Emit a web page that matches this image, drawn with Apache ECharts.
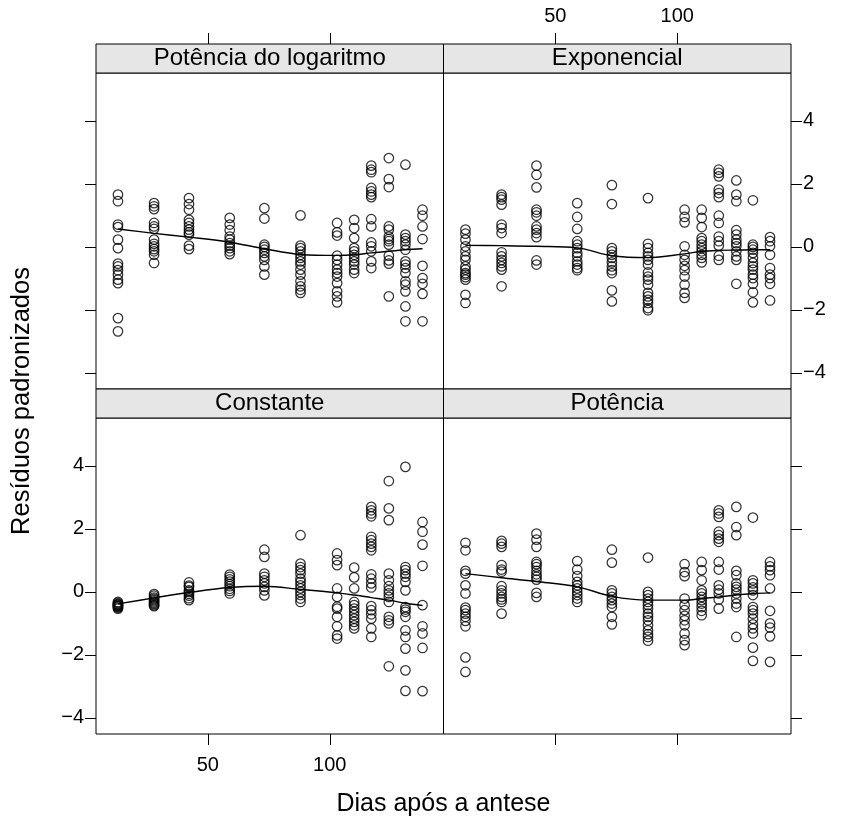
<!DOCTYPE html>
<html>
<head>
<meta charset="utf-8">
<script src="https://cdn.jsdelivr.net/npm/echarts@6/dist/echarts.min.js"></script>
<style>
html,body{margin:0;padding:0;background:#fff;}
#chart{width:843px;height:820px;}
</style>
</head>
<body>
<div id="chart"></div>
<script>
// ---- data ----
const DAYS = [13.2, 28, 42.3, 59, 73.2, 88, 103, 110, 117, 124.2, 131, 138];
const PANEL_NAMES = ["Potência do logaritmo", "Exponencial", "Constante", "Potência"];
const X_TICKS = [50, 100];
const Y_TICKS = [-4, -2, 0, 2, 4];

const resPotLog = [
  [1.66, 1.45, 0.71, 0.63, 0.23, -0.04, -0.53, -0.62, -0.74, -0.88, -1.04, -1.15, -2.26, -2.68],
  [1.39, 1.29, 1.20, 0.76, 0.65, 0.57, 0.23, 0.10, 0.02, -0.07, -0.14, -0.25, -0.51],
  [1.55, 1.36, 1.18, 0.86, 0.76, 0.65, 0.55, 0.46, 0.39, 0.04, -0.07],
  [0.92, 0.71, 0.53, 0.33, 0.23, 0.12, 0.04, -0.04, -0.14, -0.23],
  [1.23, 0.90, 0.07, 0.00, -0.09, -0.19, -0.30, -0.41, -0.62, -0.88],
  [1.00, 0.04, -0.04, -0.14, -0.25, -0.35, -0.46, -0.56, -0.72, -0.88, -1.09, -1.25, -1.36, -1.46],
  [0.76, 0.46, 0.36, -0.28, -0.41, -0.56, -0.72, -0.83, -0.94, -1.15, -1.41, -1.57, -1.76],
  [0.86, 0.60, 0.28, -0.04, -0.14, -0.25, -0.35, -0.46, -0.56, -0.72, -0.83],
  [2.58, 2.45, 2.37, 1.87, 1.76, 1.66, 1.58, 0.88, 0.65, 0.14, 0.02, -0.14, -0.46, -0.67],
  [2.82, 2.15, 1.90, 0.65, 0.55, 0.33, 0.25, 0.18, 0.07, -0.28, -0.43, -0.53, -1.57],
  [2.61, 0.39, 0.28, 0.18, 0.07, -0.09, -0.46, -0.56, -0.67, -0.83, -1.09, -1.20, -1.41, -1.89, -2.36],
  [1.18, 0.99, 0.65, 0.25, -0.60, -0.99, -1.17, -1.49, -2.36]
];
const resExp = [
  [0.55, 0.42, 0.23, 0.02, -0.14, -0.30, -0.41, -0.62, -0.72, -0.83, -0.88, -0.96, -1.04, -1.52, -1.78],
  [1.66, 1.58, 1.50, 1.34, 0.71, 0.60, 0.44, -0.17, -0.30, -0.41, -0.51, -0.62, -0.72, -1.25],
  [2.58, 2.29, 1.89, 1.18, 1.10, 0.99, 0.65, 0.55, 0.44, 0.31, -0.43, -0.56],
  [1.39, 0.95, 0.57, 0.18, 0.07, -0.04, -0.19, -0.30, -0.46, -0.56, -0.67, -0.74],
  [1.96, 1.36, -0.04, -0.14, -0.25, -0.35, -0.49, -0.62, -0.74, -0.83, -1.38, -1.73],
  [1.55, 0.10, -0.04, -0.19, -0.30, -0.41, -0.56, -0.81, -0.94, -1.04, -1.20, -1.46, -1.57, -1.68, -1.78, -1.94, -2.01],
  [1.18, 0.95, 0.78, 0.02, -0.25, -0.41, -0.60, -0.74, -0.94, -1.20, -1.46, -1.62],
  [1.18, 0.92, 0.63, 0.28, 0.18, 0.07, -0.04, -0.14, -0.25, -0.35, -0.49],
  [2.45, 2.35, 2.24, 1.82, 1.71, 1.58, 0.99, 0.76, 0.33, 0.18, 0.04, -0.28, -0.41],
  [2.11, 1.66, 1.45, 0.53, 0.39, 0.23, 0.12, 0.02, -0.14, -0.30, -0.41, -1.17],
  [1.48, 0.07, 0.00, -0.09, -0.19, -0.35, -0.51, -0.62, -0.72, -0.88, -0.99, -1.17, -1.44, -1.76],
  [0.31, 0.18, 0.02, -0.25, -0.67, -0.88, -0.99, -1.17, -1.70]
];
const resConst = [
  [-0.32, -0.35, -0.38, -0.41, -0.44, -0.47, -0.50, -0.53, -0.40, -0.45],
  [-0.07, -0.12, -0.18, -0.22, -0.26, -0.30, -0.34, -0.38, -0.42, -0.45],
  [0.30, 0.20, 0.16, 0.05, 0.00, -0.06, -0.12, -0.20, -0.26],
  [0.55, 0.48, 0.40, 0.33, 0.25, 0.18, 0.10, 0.03, -0.05],
  [1.34, 1.11, 0.58, 0.48, 0.37, 0.27, 0.16, 0.05, -0.11],
  [1.80, 0.90, 0.79, 0.69, 0.58, 0.42, 0.32, 0.21, 0.11, 0.00, -0.10, -0.21, -0.32],
  [1.22, 1.01, 0.85, 0.11, -0.16, -0.47, -0.53, -0.79, -1.09, -1.38, -1.48],
  [0.77, 0.46, 0.11, -0.32, -0.42, -0.53, -0.63, -0.74, -0.85, -0.95, -1.06, -1.16],
  [2.70, 2.59, 2.49, 2.40, 1.75, 1.64, 1.53, 1.43, 1.32, 0.56, 0.42, 0.27, 0.14, -0.45, -0.58, -0.71, -0.85, -1.16, -1.43],
  [3.52, 2.65, 2.28, 0.58, 0.37, 0.18, 0.05, -0.05, -0.16, -0.32, -0.79, -0.90, -1.00, -2.36],
  [3.97, 0.79, 0.69, 0.58, 0.48, 0.32, 0.05, -0.48, -0.56, -0.63, -0.79, -1.22, -1.43, -1.80, -2.49, -3.14],
  [2.22, 1.91, 1.50, 0.83, -0.42, -1.09, -1.32, -1.78, -3.15]
];
const resPot = [
  [1.56, 1.32, 0.67, 0.58, 0.21, -0.05, -0.50, -0.58, -0.69, -0.79, -0.92, -1.09, -2.08, -2.54],
  [1.62, 1.53, 1.43, 0.85, 0.71, 0.64, 0.18, 0.05, -0.05, -0.16, -0.24, -0.32, -0.69],
  [1.85, 1.66, 1.43, 0.95, 0.88, 0.79, 0.67, 0.56, 0.48, 0.39, -0.03, -0.16],
  [0.98, 0.71, 0.50, 0.32, 0.21, 0.11, 0.00, -0.10, -0.21, -0.32],
  [1.34, 0.93, 0.05, -0.05, -0.16, -0.26, -0.37, -0.48, -0.79, -1.03],
  [1.09, 0.00, -0.10, -0.21, -0.32, -0.42, -0.53, -0.69, -0.79, -0.90, -1.06, -1.22, -1.34, -1.43, -1.55],
  [0.88, 0.63, 0.50, -0.21, -0.42, -0.58, -0.76, -0.90, -1.06, -1.32, -1.53, -1.69],
  [0.95, 0.69, 0.37, 0.05, -0.05, -0.16, -0.26, -0.37, -0.48, -0.60, -0.74],
  [2.59, 2.49, 2.38, 1.91, 1.80, 1.69, 1.59, 0.95, 0.71, 0.21, 0.07, -0.05, -0.24, -0.53],
  [2.70, 2.06, 1.80, 0.67, 0.53, 0.27, 0.16, 0.07, -0.05, -0.21, -0.37, -0.48, -1.43],
  [2.36, 0.37, 0.27, 0.14, 0.05, -0.10, -0.48, -0.58, -0.69, -0.85, -1.03, -1.16, -1.32, -1.77, -2.19],
  [0.95, 0.81, 0.69, 0.53, 0.11, -0.60, -1.00, -1.13, -1.41, -2.22]
];
// smoothed (loess) curve values at each day
const smoothPotLog = [0.57, 0.43, 0.31, 0.15, -0.06, -0.24, -0.27, -0.25, -0.19, -0.14, -0.09, -0.06];
const smoothExp    = [0.05, 0.04, 0.02, -0.03, -0.28, -0.34, -0.22, -0.14, -0.11, -0.10, -0.09, -0.09];
const smoothConst  = [-0.38, -0.19, -0.02, 0.14, 0.18, 0.08, -0.03, -0.10, -0.18, -0.26, -0.36, -0.43];
const smoothPot    = [0.58, 0.45, 0.33, 0.16, -0.14, -0.26, -0.26, -0.21, -0.16, -0.10, -0.05, -0.03];

// ---- layout ----
const FONT = '"Liberation Sans", Arial, Helvetica, sans-serif';
const LEFT = 96, PW = 347.5, TOP1 = 73, PH = 316, STRIP = 29, TOP2 = TOP1 + PH + STRIP;
const XMIN = 4.2, XMAX = 146.6, YMIN = -4.51, YMAX = 5.52;
const panelRes = [resPotLog, resExp, resConst, resPot];
const panelSmooth = [smoothPotLog, smoothExp, smoothConst, smoothPot];
const pos = [
  {left: LEFT, top: TOP1}, {left: LEFT + PW, top: TOP1},
  {left: LEFT, top: TOP2}, {left: LEFT + PW, top: TOP2}
];

const grids = pos.map(p => ({
  left: p.left, top: p.top, width: PW, height: PH,
  show: true, borderColor: '#000', borderWidth: 1, backgroundColor: 'transparent',
  outerBoundsMode: 'none', containLabel: false
}));

const minus = v => String(v).replace('-', '\u2212');

const xAxes = pos.map((p, i) => ({
  gridIndex: i, type: 'value', min: XMIN, max: XMAX,
  position: i < 2 ? 'top' : 'bottom',
  offset: i < 2 ? STRIP : 0,
  splitLine: {show: false},
  axisLine: {show: false, onZero: false},
  axisTick: {show: true, inside: false, length: 11, customValues: X_TICKS, lineStyle: {color: '#000', width: 1}},
  axisLabel: {show: (i === 1 || i === 2), customValues: X_TICKS, fontSize: 20, color: '#000', fontFamily: FONT, margin: i < 2 ? 18 : 21}
}));
const yAxes = pos.map((p, i) => ({
  gridIndex: i, type: 'value', min: YMIN, max: YMAX,
  position: (i % 2 === 0) ? 'left' : 'right',
  splitLine: {show: false},
  axisLine: {show: false, onZero: false},
  axisTick: {show: true, inside: false, length: 11, customValues: Y_TICKS, lineStyle: {color: '#000', width: 1}},
  axisLabel: {show: (i === 1 || i === 2), customValues: Y_TICKS, fontSize: 20, color: '#000', fontFamily: FONT, margin: 12, formatter: minus}
}));

const series = [];
panelRes.forEach((cols, i) => {
  const pts = [];
  cols.forEach((vals, c) => vals.forEach(v => pts.push([DAYS[c], v])));
  series.push({
    type: 'scatter', xAxisIndex: i, yAxisIndex: i, data: pts,
    symbol: 'circle', symbolSize: 9.5,
    itemStyle: {color: 'rgba(0,0,0,0)', borderColor: '#000', borderWidth: 1.25},
    silent: true
  });
  series.push({
    type: 'line', xAxisIndex: i, yAxisIndex: i,
    data: DAYS.map((d, c) => [d, panelSmooth[i][c]]),
    showSymbol: false, symbol: 'none', smooth: 0.35,
    lineStyle: {color: '#000', width: 1.4}, silent: true
  });
});

const graphics = [];
pos.forEach((p, i) => {
  graphics.push({
    type: 'rect', silent: true,
    shape: {x: p.left, y: p.top - STRIP, width: PW, height: STRIP},
    style: {fill: '#e6e6e6', stroke: '#000', lineWidth: 1}
  });
  graphics.push({
    type: 'text', silent: true,
    x: p.left + PW / 2, y: p.top - STRIP / 2,
    style: {text: PANEL_NAMES[i], fontSize: 24, fontFamily: FONT, fill: '#000', align: 'center', verticalAlign: 'middle'}
  });
});
graphics.push({
  type: 'text', silent: true,
  x: LEFT + PW, y: TOP2 + PH + 70,
  style: {text: 'Dias após a antese', fontSize: 25, fontFamily: FONT, fill: '#000', align: 'center', verticalAlign: 'middle'}
});
graphics.push({
  type: 'text', silent: true,
  x: 22, y: (TOP1 - STRIP + TOP2 + PH) / 2 + 12, rotation: Math.PI / 2,
  style: {text: 'Resíduos padronizados', fontSize: 25.5, fontFamily: FONT, fill: '#000', align: 'center', verticalAlign: 'middle'}
});

const chart = echarts.init(document.getElementById('chart'), null, {renderer: 'canvas'});
chart.setOption({
  animation: false,
  backgroundColor: '#fff',
  grid: grids,
  xAxis: xAxes,
  yAxis: yAxes,
  series: series,
  graphic: graphics
});
</script>
</body>
</html>
